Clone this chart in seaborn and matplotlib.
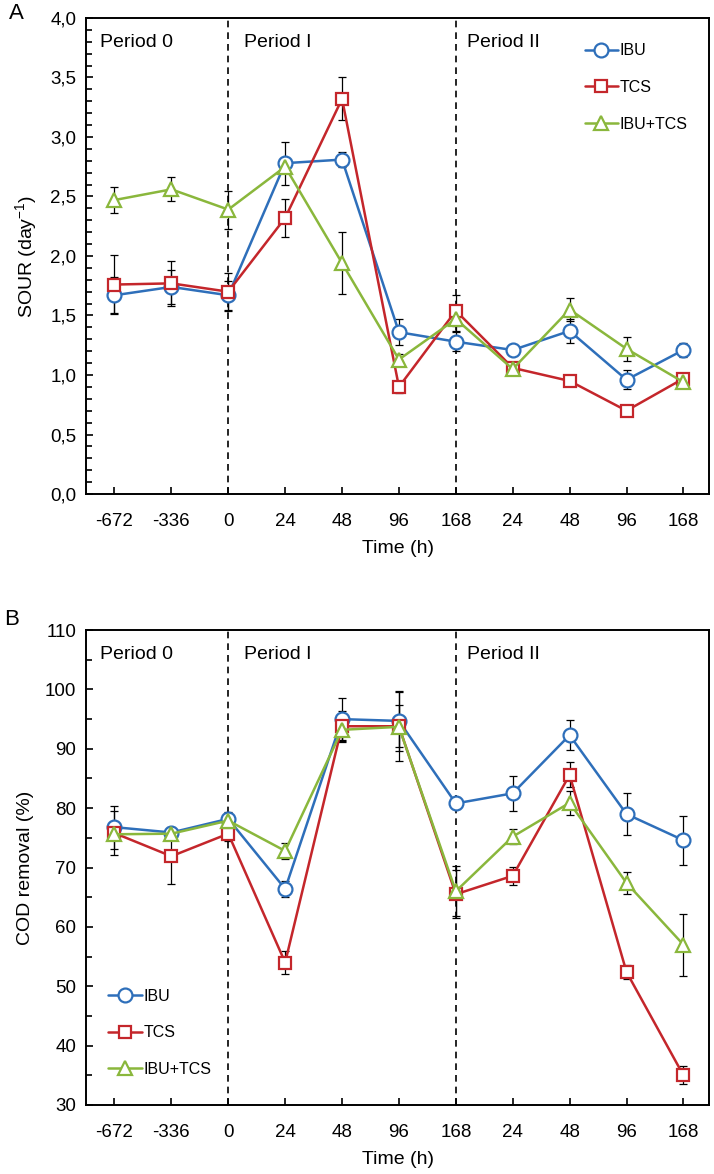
import matplotlib
matplotlib.use("Agg")
import matplotlib.pyplot as plt
import seaborn as sns
import pandas as pd
import numpy as np
from matplotlib.ticker import MultipleLocator, FuncFormatter

# x categories (time in hours, periods 0 / I / II)
time_labels = ['-672', '-336', '0', '24', '48', '96', '168', '24', '48', '96', '168']
series = ['IBU', 'TCS', 'IBU+TCS']

# panel A: SOUR (day-1)
sour_ibu = [1.67, 1.74, 1.67, 2.78, 2.81, 1.36, 1.28, 1.21, 1.37, 0.96, 1.21]
sour_tcs = [1.76, 1.77, 1.70, 2.32, 3.32, 0.90, 1.54, 1.06, 0.95, 0.70, 0.97]
sour_mix = [2.47, 2.56, 2.39, 2.75, 1.94, 1.13, 1.47, 1.05, 1.55, 1.22, 0.94]
sour_ibu_err = [0.15, 0.14, 0.12, 0.18, 0.06, 0.11, 0.08, 0.04, 0.10, 0.08, 0.06]
sour_tcs_err = [0.25, 0.19, 0.16, 0.16, 0.18, 0.05, 0.13, 0.03, 0.02, 0.02, 0.03]
sour_mix_err = [0.11, 0.10, 0.16, 0.05, 0.26, 0.05, 0.10, 0.05, 0.10, 0.10, 0.03]

# panel B: COD removal (%)
cod_ibu = [76.8, 75.9, 78.2, 66.4, 95.0, 94.7, 80.8, 82.5, 92.3, 79.0, 74.6]
cod_tcs = [75.8, 71.9, 75.7, 54.0, 93.8, 93.8, 65.5, 68.6, 85.6, 52.4, 35.0]
cod_mix = [75.6, 75.7, 77.9, 72.8, 93.2, 93.7, 66.0, 75.2, 80.9, 67.4, 57.0]
cod_ibu_err = [3.6, 1.0, 1.2, 1.3, 3.6, 5.0, 1.0, 2.9, 2.5, 3.6, 4.1]
cod_tcs_err = [3.7, 4.7, 1.2, 2.0, 2.5, 3.5, 4.0, 1.5, 2.1, 1.2, 1.5]
cod_mix_err = [1.0, 0.8, 1.2, 1.3, 2.0, 5.8, 4.2, 1.3, 2.0, 1.8, 5.2]

colors = {'IBU': '#2e6fba', 'TCS': '#c4262b', 'IBU+TCS': '#8ab73c'}
markers = {'IBU': 'o', 'TCS': 's', 'IBU+TCS': '^'}
msizes = {'IBU': 10, 'TCS': 8, 'IBU+TCS': 10}

sns.set_style("ticks")
plt.rcParams['font.family'] = ['Liberation Sans', 'DejaVu Sans']
plt.rcParams['mathtext.fontset'] = 'custom'
plt.rcParams['mathtext.rm'] = 'Liberation Sans'
plt.rcParams['mathtext.it'] = 'Liberation Sans'
for k in ['text.color', 'axes.labelcolor', 'xtick.color', 'ytick.color']:
    plt.rcParams[k] = 'black'


def make_df(vals, errs):
    rows = []
    for name, v, e in zip(series, vals, errs):
        for i, (y, ye) in enumerate(zip(v, e)):
            rows.append({'pos': i, 'value': y, 'err': ye, 'series': name})
    return pd.DataFrame(rows)


def draw_panel(ax, df, ylim, major, minor, fmt, ylabel, legend_loc):
    # error bars first so markers sit on top
    for name in series:
        d = df[df['series'] == name]
        ax.errorbar(d['pos'], d['value'], yerr=d['err'], fmt='none',
                    ecolor='black', elinewidth=0.9, capsize=3, capthick=0.9, zorder=2)
    sns.lineplot(data=df, x='pos', y='value', hue='series', style='series',
                 palette=colors, markers=markers, dashes=False, ax=ax,
                 linewidth=1.8, legend=False, zorder=3)
    # white fill, coloured edge
    for line, name in zip(ax.get_lines()[-3:], series):
        line.set_markerfacecolor('white')
        line.set_markeredgecolor(colors[name])
        line.set_markeredgewidth(1.6)
        line.set_markersize(msizes[name])

    for xv in [2, 6]:
        ax.axvline(xv, color='black', ls=(0, (4, 3)), lw=1.2, zorder=1)

    ax.set_xlim(-0.5, 10.45)
    ax.set_ylim(*ylim)
    ax.set_xticks(range(len(time_labels)))
    ax.set_xticklabels(time_labels)
    ax.yaxis.set_major_locator(MultipleLocator(major))
    ax.yaxis.set_minor_locator(MultipleLocator(minor))
    ax.yaxis.set_major_formatter(FuncFormatter(fmt))
    ax.tick_params(axis='both', which='major', direction='in', length=5,
                   width=1.2, labelsize=13.5)
    ax.tick_params(axis='x', which='major', pad=14)
    ax.tick_params(axis='y', which='major', pad=7)
    ax.tick_params(axis='y', which='minor', direction='in', length=4, width=1.2)
    for s in ax.spines.values():
        s.set_linewidth(1.4)
        s.set_color('black')
    ax.set_xlabel('Time (h)', fontsize=14, labelpad=7)
    ax.set_ylabel(ylabel, fontsize=14, labelpad=8)

    ytxt = 0.948
    ax.text(-0.25, ytxt, 'Period 0', transform=ax.get_xaxis_transform(),
            fontsize=14, va='center', ha='left')
    ax.text(2.27, ytxt, 'Period I', transform=ax.get_xaxis_transform(),
            fontsize=14, va='center', ha='left')
    ax.text(6.2, ytxt, 'Period II', transform=ax.get_xaxis_transform(),
            fontsize=14, va='center', ha='left')

    handles = []
    for name in series:
        h, = ax.plot([], [], color=colors[name], marker=markers[name],
                     markersize=msizes[name], markerfacecolor='white',
                     markeredgecolor=colors[name], markeredgewidth=1.6, lw=1.8)
        handles.append(h)
    leg = ax.legend(handles, series, loc='upper left', bbox_to_anchor=legend_loc,
                    frameon=False, handlelength=2.1, handletextpad=0.1,
                    labelspacing=1.35, borderaxespad=0,
                    prop={'family': ['Liberation Sans Narrow', 'Liberation Sans'], 'size': 11.5})
    return leg


fig = plt.figure(figsize=(7.14, 11.74), dpi=100)
ax1 = fig.add_axes([0.1205, 0.5792, 0.8725, 0.4055])
ax2 = fig.add_axes([0.1205, 0.0588, 0.8725, 0.4045])

df_a = make_df([sour_ibu, sour_tcs, sour_mix], [sour_ibu_err, sour_tcs_err, sour_mix_err])
df_b = make_df([cod_ibu, cod_tcs, cod_mix], [cod_ibu_err, cod_tcs_err, cod_mix_err])

draw_panel(ax1, df_a, (0, 4.0), 0.5, 0.1,
           lambda v, p: ('%.1f' % v).replace('.', ','),
           'SOUR (day$^{-1}$)', (0.79, 0.96))
draw_panel(ax2, df_b, (30, 110), 10, 5,
           lambda v, p: '%d' % v,
           'COD removal (%)', (0.025, 0.258))

fig.text(0.012, 0.9885, 'A', fontsize=16, va='center', ha='left')
fig.text(0.006, 0.4725, 'B', fontsize=16, va='center', ha='left')

fig.savefig('out.png', dpi=100)
